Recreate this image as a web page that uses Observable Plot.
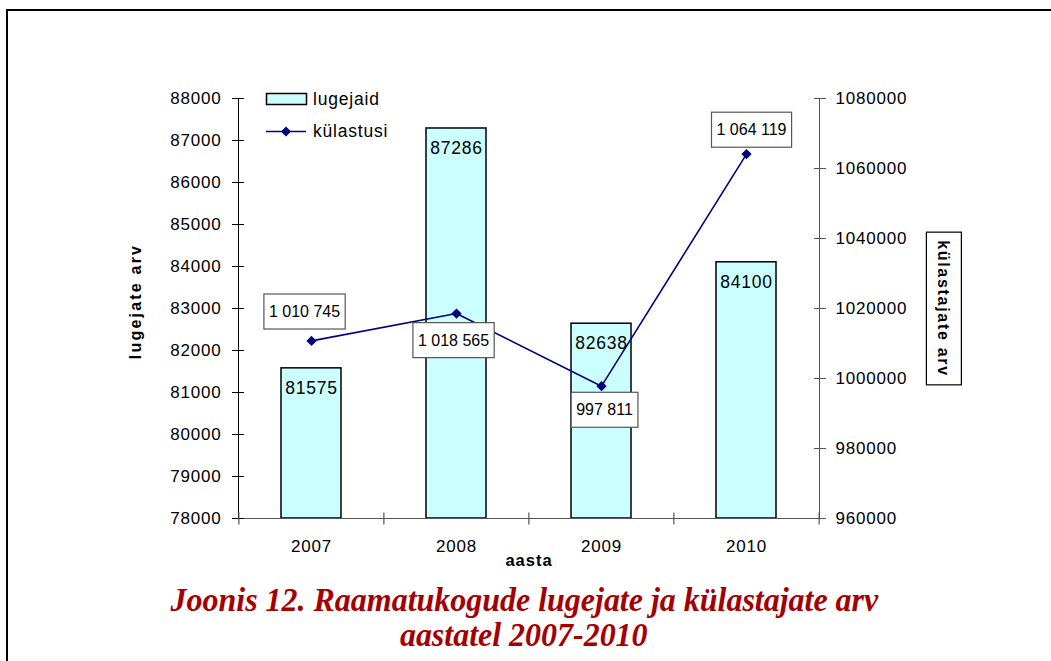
<!DOCTYPE html>
<html><head><meta charset="utf-8">
<script src="https://cdn.jsdelivr.net/npm/d3@7"></script>
<script src="https://cdn.jsdelivr.net/npm/@observablehq/plot@0.6"></script>
<style>
body{margin:0;background:#fff;}
#wrap{position:relative;width:1051px;height:661px;overflow:hidden;font-family:"Liberation Sans",Arial,sans-serif;background:#fff;}
#chart{position:absolute;left:0;top:0;}
#chart svg text{letter-spacing:0.8px;}
#title{position:absolute;left:9px;top:574px;width:1030px;height:87px;background:#fff;text-align:center;font-family:"Liberation Serif","Times New Roman",serif;font-weight:bold;font-style:italic;color:#A50000;font-size:34px;line-height:35px;padding-top:8px;}
#title span{display:inline-block;transform:scaleX(0.94);transform-origin:center;white-space:nowrap;}
#border{position:absolute;left:6px;top:9px;width:1100px;height:800px;border-left:2px solid #000;border-top:2px solid #000;pointer-events:none;}
.leg{position:absolute;font-size:17.5px;letter-spacing:0.8px;line-height:20px;}
</style></head>
<body>
<div id="wrap">
  <div id="chart"></div>
  <div id="title"><span>Joonis 12. Raamatukogude lugejate ja külastajate arv</span><br><span>aastatel 2007-2010</span></div>
  <div id="border"></div>
  <svg style="position:absolute;left:260px;top:88px" width="60" height="56">
    <rect x="6.5" y="5.5" width="40" height="11" fill="#CCFFFF" stroke="#000" stroke-width="1.5"/>
    <line x1="6" x2="46" y1="43.5" y2="43.5" stroke="#000080" stroke-width="1.5"/>
    <path d="M26,38.5L31,43.5L26,48.5L21,43.5Z" fill="#000080"/>
  </svg>
  <div class="leg" style="left:313px;top:89px">lugejaid</div>
  <div class="leg" style="left:313px;top:121px">külastusi</div>
</div>
<script>
const years = ["2007", "2008", "2009", "2010"];
const readers = [81575, 87286, 82638, 84100];
const visits = [1010745, 1018565, 997811, 1064119];
const leftTicks = [78000, 79000, 80000, 81000, 82000, 83000, 84000, 85000, 86000, 87000, 88000];
const rightTicks = [960000, 980000, 1000000, 1020000, 1040000, 1060000, 1080000];
const labelDx = [-7, -3, 3, 5];
const labelDy = [-29, 27, 24, -24];

const leftDomain = [78000, 88000];
const rightDomain = [960000, 1080000];
const toLeft = v => leftDomain[0] + (v - rightDomain[0]) / (rightDomain[1] - rightDomain[0]) * (leftDomain[1] - leftDomain[0]);
const fromLeft = v => Math.round(rightDomain[0] + (v - leftDomain[0]) / (leftDomain[1] - leftDomain[0]) * (rightDomain[1] - rightDomain[0]));
const spaced = v => d3.format(",")(v).replace(/,/g, " ");

const data = years.map((y, i) => ({year: y, readers: readers[i], visits: visits[i], vy: toLeft(visits[i]), i}));
const leftTitle = "lugejate arv", rightTitle = "külastajate arv", xTitle = "aasta";

const W = 1051, H = 661, mL = 238, mR = 232, mT = 98, mB = 143;
const half = (W - mL - mR) / years.length / 2;
const vtick = {draw(ctx) { ctx.moveTo(0, -6); ctx.lineTo(0, 6); }};

const axisColor = "#555";
const marks = [
  Plot.barY(data, {x: "year", y1: leftDomain[0], y2: "readers", fill: "#CCFFFF", stroke: "#000", strokeWidth: 1.5}),
  Plot.text(data, {x: "year", y: "readers", text: d => String(d.readers), dy: 20, fontSize: 17.5, fill: "#000"}),
  Plot.frame({anchor: "left", stroke: "#000"}),
  Plot.frame({anchor: "right", stroke: axisColor}),
  Plot.frame({anchor: "bottom", stroke: axisColor}),
  Plot.axisY({ticks: leftTicks, tickSize: 6, tickPadding: 11, tickFormat: d => String(d), label: null, fontSize: 17, stroke: "#000"}),
  Plot.axisY({ticks: leftTicks, tickSize: -6, tickFormat: () => "", label: null, stroke: "#000"}),
  Plot.axisY({anchor: "right", ticks: rightTicks.map(toLeft), tickSize: 6, tickPadding: 10, tickFormat: d => String(fromLeft(d)), label: null, fontSize: 17, stroke: axisColor}),
  Plot.axisY({anchor: "right", ticks: rightTicks.map(toLeft), tickSize: -6, tickFormat: () => "", label: null, stroke: axisColor}),
  Plot.axisX({tickSize: 0, tickPadding: 21, label: null, fontSize: 17}),
  Plot.dot(years, {x: d => d, frameAnchor: "bottom", dx: -half, symbol: vtick, stroke: axisColor, strokeWidth: 1.2}),
  Plot.dot(years.slice(-1), {x: d => d, frameAnchor: "bottom", dx: half, symbol: vtick, stroke: axisColor, strokeWidth: 1.2}),
  Plot.line(data, {x: "year", y: "vy", stroke: "#000080", strokeWidth: 1.6}),
  Plot.dot(data, {x: "year", y: "vy", symbol: "diamond2", r: 4.6, fill: "#000080", stroke: "none"}),
  ...data.map((d, i) => Plot.text([d], {x: "year", y: "vy", text: d => spaced(d.visits), dx: labelDx[i], dy: labelDy[i], fontSize: 16, fill: "#000"})),
  Plot.text([leftTitle], {text: d => d, frameAnchor: "left", textAnchor: "middle", dx: -103, dy: -7, rotate: -90, fontWeight: "bold", fontSize: 16}),
  Plot.text([rightTitle], {text: d => d, frameAnchor: "right", textAnchor: "middle", dx: 124, rotate: 90, fontWeight: "bold", fontSize: 16}),
  Plot.text([xTitle], {text: d => d, frameAnchor: "bottom", dy: 47, fontWeight: "bold", fontSize: 16.5})
];

const chart = Plot.plot({
  width: W, height: H,
  marginTop: mT, marginBottom: mB, marginLeft: mL, marginRight: mR,
  x: {domain: years, paddingInner: 0.586, paddingOuter: 0.293, label: null},
  y: {domain: leftDomain, label: null},
  style: {fontFamily: '"Liberation Sans", Arial, sans-serif', fontSize: "17px", color: "#000", background: "transparent"},
  marks
});
document.getElementById("chart").appendChild(chart);

const allText = Array.from(chart.querySelectorAll("text"));
const byContent = s => allText.filter(t => t.textContent === s);

function box(t, padX, padY, stroke) {
  const b = t.getBBox();
  const r = document.createElementNS("http://www.w3.org/2000/svg", "rect");
  r.setAttribute("x", b.x - padX);
  r.setAttribute("y", b.y - padY);
  r.setAttribute("width", b.width + 2 * padX);
  r.setAttribute("height", b.height + 2 * padY);
  r.setAttribute("fill", "#fff");
  r.setAttribute("stroke", stroke);
  r.setAttribute("stroke-width", "1.2");
  if (t.getAttribute("transform")) r.setAttribute("transform", t.getAttribute("transform"));
  t.parentNode.insertBefore(r, t);
}
visits.map(spaced).forEach(s => byContent(s).forEach(t => { t.style.letterSpacing = "0px"; box(t, 5, 9, "#555"); }));
byContent(leftTitle).forEach(t => t.style.letterSpacing = "2.2px");
byContent(rightTitle).forEach(t => { t.style.letterSpacing = "1.7px"; box(t, 8, 9, "#000"); });
byContent(xTitle).forEach(t => t.style.letterSpacing = "1px");
</script>
</body></html>
